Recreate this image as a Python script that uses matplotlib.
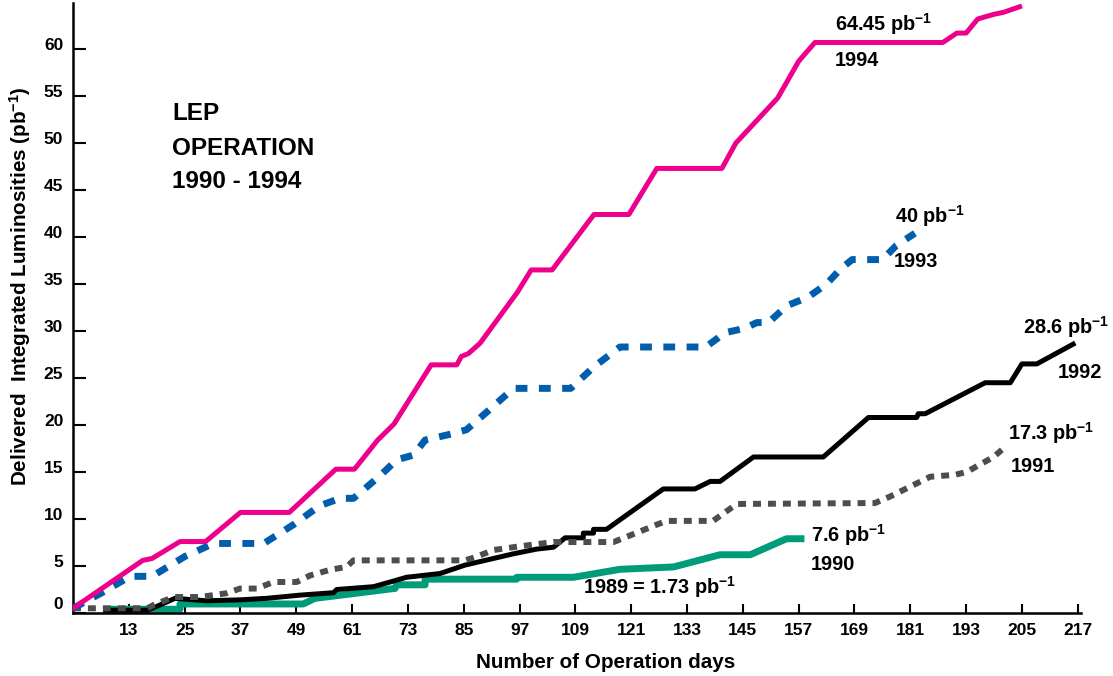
import matplotlib
matplotlib.use("Agg")
from matplotlib import pyplot as plt
from matplotlib import transforms

## 1994
y94_days = [1, 16, 18, 24, 29.5, 37, 47.5, 57.5, 61.5, 66.5, 70, 78, 83.5, 84.5, 86, 88.5,
            96.5, 99.5, 104, 113, 120.5, 126.5, 140.5, 143.5, 152.5, 157, 160.5, 188, 191,
            193, 195.5, 199, 201, 204.5]
y94_lumi = [0.5, 5.6, 5.8, 7.6, 7.6, 10.7, 10.7, 15.3, 15.3, 18.4, 20.1, 26.4, 26.4, 27.3,
            27.6, 28.7, 34.1, 36.5, 36.5, 42.4, 42.4, 47.3, 47.3, 50.0, 54.8, 58.7, 60.7,
            60.7, 61.7, 61.7, 63.2, 63.7, 63.9, 64.5]

## 1993
y93_days = [1, 7, 13.3, 18, 25, 31.2, 42, 48.4, 54, 58.4, 61.3, 67, 70.6, 74.2, 76.7, 82.8,
            85.6, 90, 95.7, 108, 113, 118.6, 137, 139.5, 141, 145.5, 148, 150.5, 154.5, 157,
            159, 163, 166, 168.5, 175, 178, 182]
y93_lumi = [0.5, 2.1, 3.9, 3.9, 6.0, 7.4, 7.4, 9.4, 11.4, 12.2, 12.2, 14.6, 16.3, 16.8, 18.4,
            19.1, 19.5, 21.4, 23.9, 23.9, 26.2, 28.3, 28.3, 29.2, 29.8, 30.3, 30.9, 30.9, 32.7,
            33.2, 33.6, 35.0, 36.6, 37.6, 37.6, 39.1, 40.4]

## 1992
y92_days = [8, 17, 19, 22.9, 29.7, 36.9, 42.6, 49.8, 57, 57.7, 65.6, 69.2, 72.7, 79.9, 85.3,
            95.7, 100.7, 104.3, 106.8, 110.7, 110.7, 112.9, 112.9, 115.7, 127.9, 134.7, 138,
            140.1, 147.3, 162.3, 172, 182.4, 182.7, 184.2, 197.1, 202.5, 205, 208.2, 216]
y92_lumi = [0.3, 0.3, 0.7, 1.56, 1.3, 1.4, 1.56, 1.9, 2.16, 2.5, 2.8, 3.3, 3.8, 4.2, 5.1, 6.3,
            6.8, 7.0, 8.0, 8.0, 8.5, 8.5, 8.9, 8.9, 13.2, 13.2, 14.0, 14.0, 16.6, 16.6, 20.8,
            20.8, 21.2, 21.2, 24.5, 24.5, 26.5, 26.5, 28.6]

## 1991
y91_days = [1, 2.5, 17, 18.3, 22.6, 28.3, 34, 36.9, 40.5, 44.1, 49.1, 52, 56.3, 59.8, 61.3,
            85.3, 87.8, 91.4, 97.1, 104.3, 117.2, 120, 126.5, 128.6, 138.6, 143.7, 173.4,
            176.7, 185.3, 190.6, 193.1, 198.9, 201]
y91_lumi = [0.5, 0.5, 0.5, 0.85, 1.7, 1.7, 2.1, 2.6, 2.6, 3.3, 3.3, 4.0, 4.6, 4.9, 5.6, 5.6,
            6.0, 6.7, 7.1, 7.55, 7.55, 8.1, 9.4, 9.8, 9.8, 11.6, 11.7, 12.4, 14.5, 14.7, 15.0,
            16.6, 17.5]

## 1990
y90_days = [9.3, 24, 24, 50.5, 53, 57, 69.9, 70.2, 70.6, 76.7, 76.7, 96.4, 96.4, 108.6, 118.6,
            130.1, 140.1, 146.6, 154.4, 157.5]
y90_lumi = [0.4, 0.4, 0.96, 0.96, 1.56, 1.8, 2.6, 2.6, 3.0, 3.0, 3.6, 3.6, 3.8, 3.8, 4.65,
            4.9, 6.2, 6.2, 7.9, 7.9]

x_ticks = list(range(13, 218, 12))
y_ticks = list(range(0, 61, 5))

plt.rcParams['font.family'] = 'Liberation Sans'
plt.rcParams['font.weight'] = 'bold'
plt.rcParams['mathtext.fontset'] = 'custom'
plt.rcParams['mathtext.bf'] = 'Liberation Sans:bold'
plt.rcParams['mathtext.rm'] = 'Liberation Sans:bold'
plt.rcParams['mathtext.default'] = 'bf'

fig = plt.figure(figsize=(11.13, 6.76), dpi=100)
ax = fig.add_axes([73 / 1113, 63 / 676, 1008 / 1113, 610 / 676])

ax.plot(y92_days, y92_lumi, color='black', lw=3.6, zorder=3)
ax.plot(y91_days, y91_lumi, color='#4d4d4d', lw=4.3, ls=(0, (1.33, 1.17)), zorder=4)
ax.plot(y90_days, y90_lumi, color='#009b78', lw=5, zorder=2)
ax.plot(y93_days, y93_lumi, color='#005ead', lw=5, ls=(0, (1.7, 1.65)), zorder=5)
ax.plot(y94_days, y94_lumi, color='#ec008c', lw=3.6, zorder=6)

ax.set_xlim(1, 217.7)
ax.set_ylim(0, 64.9)
ax.set_xticks(x_ticks)
ax.set_yticks(y_ticks)
for s in ['top', 'right']:
    ax.spines[s].set_visible(False)
for s in ['left', 'bottom']:
    ax.spines[s].set_linewidth(1.8)
ax.tick_params(axis='x', direction='in', length=6.5, width=1.5, pad=7, labelsize=12.5)
ax.tick_params(axis='y', direction='in', length=9.4, width=1.5, pad=7, labelsize=12.5)
for i, lab in enumerate(ax.get_yticklabels()):
    up = 0.10 if i == 0 else 0.05
    lab.set_transform(lab.get_transform() + transforms.ScaledTranslation(0, up, fig.dpi_scale_trans))

fig.text(606 / 1113, 1 - 663 / 676, 'Number of Operation days', ha='center', va='center',
         fontsize=14.9, fontweight='bold')
fig.text(20 / 1113, 1 - 286 / 676, r'Delivered  Integrated Luminosities (pb$^{-1}$)',
         ha='center', va='center', rotation=90, fontsize=14.9, fontweight='bold')

ax.text(22.3, 52.4, 'LEP', fontsize=17.5, va='baseline')
ax.text(22.3, 48.7, 'OPERATION', fontsize=17.5, va='baseline')
ax.text(22.3, 45.2, '1990 - 1994', fontsize=17.5, va='baseline')

fs = 14.3
ax.text(164.8, 61.9, r'64.45 pb$^{-1}$', fontsize=fs, va='baseline')
ax.text(164.8, 58.2, '1994', fontsize=fs, va='baseline')
ax.text(177.7, 41.5, r'40 pb$^{-1}$', fontsize=fs, va='baseline')
ax.text(177.5, 36.8, '1993', fontsize=fs, va='baseline')
ax.text(205.3, 29.7, r'28.6 pb$^{-1}$', fontsize=fs, va='baseline')
ax.text(212.8, 25.0, '1992', fontsize=fs, va='baseline')
ax.text(202.0, 18.4, r'17.3 pb$^{-1}$', fontsize=fs, va='baseline')
ax.text(202.5, 15.0, '1991', fontsize=fs, va='baseline')
ax.text(159.6, 7.6, r'7.6 pb$^{-1}$', fontsize=fs, va='baseline')
ax.text(159.5, 4.6, '1990', fontsize=fs, va='baseline')
ax.text(110.7, 2.0, r'1989 = 1.73 pb$^{-1}$', fontsize=fs, va='baseline')

fig.savefig('out.png', dpi=100)
